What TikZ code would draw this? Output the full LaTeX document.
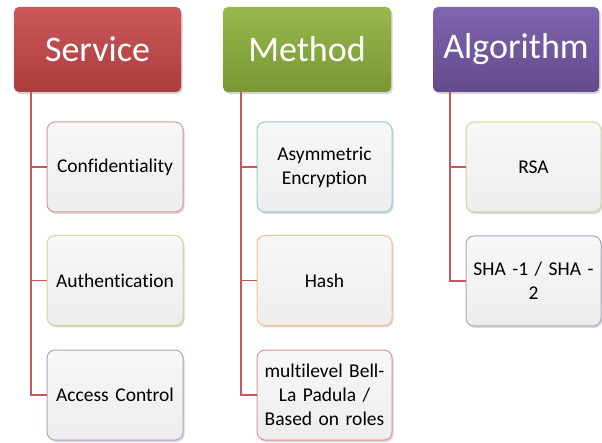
\documentclass[tikz,border=0pt]{standalone}
\usepackage{fontspec}
\setmainfont[Ligatures=NoCommon]{Carlito}
\usepackage{xcolor}
\usetikzlibrary{positioning,shadows}

\definecolor{svcred}{HTML}{C8484A}
\definecolor{mthgreen}{HTML}{8DB23C}
\definecolor{algpurple}{HTML}{7458A6}
\definecolor{linkred}{HTML}{C9585A}
\definecolor{bdred}{HTML}{DA9694}
\definecolor{bdgreen}{HTML}{C9D89B}
\definecolor{bdpurple}{HTML}{B3A2C7}
\definecolor{bdcyan}{HTML}{93CDDD}
\definecolor{bdorange}{HTML}{F8C08E}

\begin{document}
\begin{tikzpicture}[x=1pt,y=1pt,%
head/.style = {rounded corners=5pt, minimum width=167pt, minimum height=85pt,
  text=white, font=\fontsize{36}{40}\selectfont, inner sep=0pt,
  drop shadow={shadow xshift=1.5pt, shadow yshift=-2pt, opacity=0.35}},
leaf/.style = {rounded corners=8pt, minimum width=135pt, minimum height=90pt,
  draw=#1, line width=1pt, top color=white!97!black, bottom color=black!7,
  text width=130pt, align=center, inner sep=0pt,
  font=\fontsize{19.5}{24}\selectfont,
  drop shadow={shadow xshift=1.5pt, shadow yshift=-2pt, opacity=0.3}},
link/.style = {draw=linkred, line width=1.6pt}]
\useasboundingbox (0,0) rectangle (602,-443);

% headers
\node[head, top color=svcred!92!white, bottom color=svcred!85!black] (svc) at (97.5,-49.5) {Service};
\node[head, top color=mthgreen!92!white, bottom color=mthgreen!85!black, minimum width=168pt] (mth) at (307,-49.5) {Method};
\node[head, top color=algpurple!92!white, bottom color=algpurple!85!black, minimum width=166pt] (alg) at (516,-49.5) {Algorithm};

% service column
\node[leaf=bdred, minimum width=136pt] (conf) at (115,-167) {Confidentiality};
\node[leaf=bdgreen, minimum width=136pt] (auth) at (115,-280.5) {Authentication};
\node[leaf=bdpurple, minimum width=136pt] (acc) at (115,-395) {Access Control};

% method column
\node[leaf=bdcyan] (asym) at (324.5,-167) {Asymmetric\\Encryption};
\node[leaf=bdorange] (hash) at (324.5,-280.5) {Hash};
\node[leaf=bdred] (blp) at (324.5,-395) {multilevel Bell-\\La Padula /\\Based on roles};

% algorithm column
\node[leaf=bdgreen] (rsa) at (533.5,-167) {RSA};
\node[leaf=bdpurple] (sha) at (533.5,-281) {SHA -1 / SHA -\\2};

% connectors
\coordinate (svcroot) at ([xshift=17pt]svc.south west);
\coordinate (mthroot) at ([xshift=18pt]mth.south west);
\coordinate (algroot) at ([xshift=17pt]alg.south west);
\draw[link] (svcroot) |- (conf.west);
\draw[link] (svcroot) |- (auth.west);
\draw[link] (svcroot) |- (acc.west);
\draw[link] (mthroot) |- (asym.west);
\draw[link] (mthroot) |- (hash.west);
\draw[link] (mthroot) |- (blp.west);
\draw[link] (algroot) |- (rsa.west);
\draw[link] (algroot) |- (sha.west);
\end{tikzpicture}
\end{document}
